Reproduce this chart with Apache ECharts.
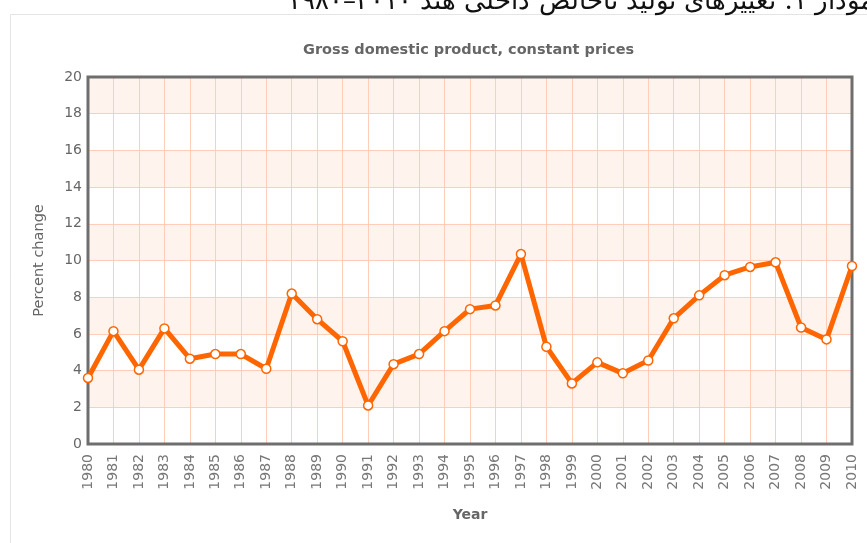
<!DOCTYPE html>
<html>
<head>
<meta charset="utf-8">
<script src="https://cdn.jsdelivr.net/npm/echarts@6/dist/echarts.min.js"></script>
<style>
    html, body { margin: 0; padding: 0; background: #fff; }
    #myChart { width: 867px; height: 543px; }
</style>
</head>
<body>
<div id="myChart"></div>
<script>
    // years on the x axis
    const years = ['1980', '1981', '1982', '1983', '1984', '1985', '1986', '1987', '1988', '1989',
        '1990', '1991', '1992', '1993', '1994', '1995', '1996', '1997', '1998', '1999',
        '2000', '2001', '2002', '2003', '2004', '2005', '2006', '2007', '2008', '2009', '2010'];
    // GDP percent change
    const gdpChange = [3.6, 6.15, 4.05, 6.3, 4.65, 4.9, 4.9, 4.1, 8.2, 6.8,
        5.6, 2.1, 4.35, 4.9, 6.15, 7.35, 7.55, 10.35, 5.3, 3.3,
        4.45, 3.85, 4.55, 6.85, 8.1, 9.2, 9.65, 9.9, 6.35, 5.7, 9.7];
    const chartTitle = 'Gross domestic product, constant prices';
    const captionFa = '\u202Bنمودار ۱. تغییرهای تولید ناخالص داخلی هند ۲۰۱۰–۱۹۸۰\u202C';

    let myChart = echarts.init(document.getElementById('myChart'));
    let option = {
        backgroundColor: '#fff',
        animation: false,
        textStyle: {
            fontFamily: 'DejaVu Sans'
        },
        title: {
            text: chartTitle,
            left: 303,
            top: 43,
            padding: 0,
            textStyle: {
                color: '#666',
                fontSize: 14.5,
                fontWeight: 'bold',
                fontFamily: 'DejaVu Sans'
            }
        },
        graphic: [{
            type: 'rect',
            shape: { x: 10.5, y: 14.5, width: 900, height: 600 },
            style: { fill: 'none', stroke: '#e4e4e4', lineWidth: 1 },
            z: -1
        }, {
            type: 'text',
            right: -15,
            top: -11,
            style: {
                text: captionFa,
                fontSize: 26,
                fontFamily: 'DejaVu Serif',
                fill: '#111'
            }
        }],
        grid: {
            left: 88,
            right: 15,
            top: 77,
            bottom: 99
        },
        xAxis: {
            type: 'category',
            data: years,
            boundaryGap: false,
            name: 'Year',
            nameLocation: 'middle',
            nameGap: 64,
            nameTextStyle: {
                color: '#666',
                fontSize: 14,
                fontWeight: 'bold'
            },
            axisLine: { show: false },
            axisTick: { show: false },
            axisLabel: {
                rotate: 90,
                interval: 0,
                margin: 10,
                color: '#777',
                fontSize: 14
            },
            splitLine: {
                show: true,
                lineStyle: { color: '#ffcdb8', width: 1 }
            }
        },
        yAxis: {
            type: 'value',
            min: 0,
            max: 20,
            interval: 2,
            name: 'Percent change',
            nameLocation: 'middle',
            nameGap: 41,
            nameTextStyle: {
                color: '#666',
                fontSize: 14.5
            },
            axisLine: { show: false },
            axisTick: { show: false },
            axisLabel: {
                margin: 6,
                color: '#666',
                fontSize: 14
            },
            splitLine: {
                show: true,
                lineStyle: { color: '#ffcdb8', width: 1 }
            },
            splitArea: {
                show: true,
                areaStyle: { color: ['#ffffff', '#fff3ee'] }
            }
        },
        series: [{
            name: 'GDP',
            type: 'line',
            data: gdpChange,
            symbol: 'circle',
            symbolSize: 9,
            lineStyle: { color: '#ff6600', width: 5 },
            itemStyle: {
                color: '#fff',
                borderColor: '#ff6600',
                borderWidth: 1.5
            },
            z: 4
        }]
    };
    myChart.setOption(option);

    // dark frame round the plot area, taken from the axes' own scale
    let topLeft = myChart.convertToPixel({ xAxisIndex: 0, yAxisIndex: 0 }, [years[0], 20]);
    let bottomRight = myChart.convertToPixel({ xAxisIndex: 0, yAxisIndex: 0 }, [years[years.length - 1], 0]);
    myChart.setOption({
        graphic: [{
            type: 'rect',
            id: 'plotFrame',
            shape: {
                x: topLeft[0],
                y: topLeft[1],
                width: bottomRight[0] - topLeft[0],
                height: bottomRight[1] - topLeft[1]
            },
            style: { fill: 'none', stroke: '#6e6e6e', lineWidth: 3 },
            z: 3
        }]
    });
</script>
</body>
</html>
